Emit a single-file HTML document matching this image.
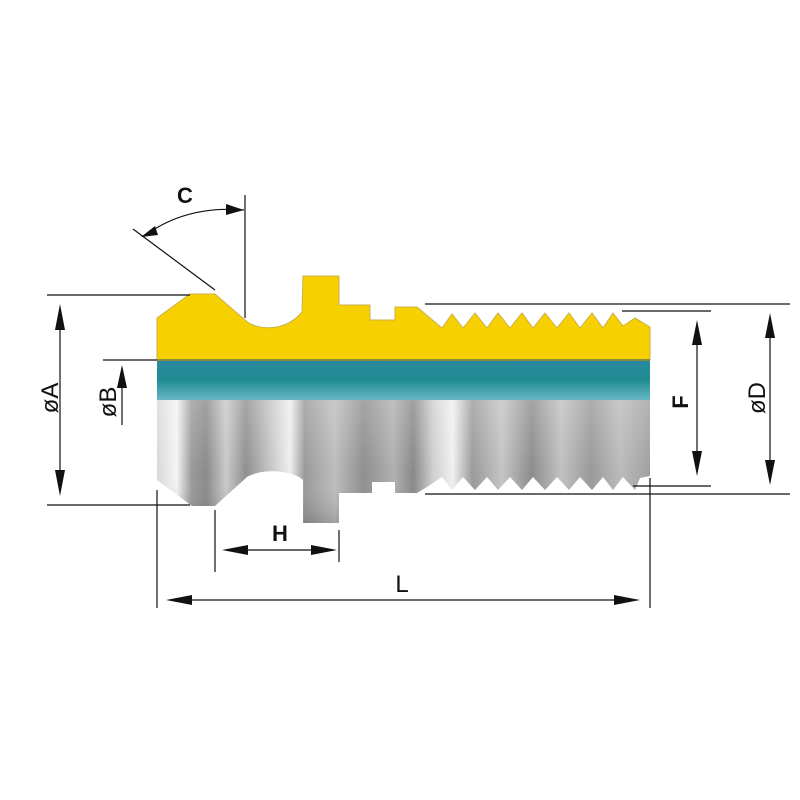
<!DOCTYPE html>
<html><head><meta charset="utf-8"><style>
html,body{margin:0;padding:0;background:#fff;}
svg{display:block;}
text{font-family:"Liberation Sans",sans-serif;fill:#111;}
</style></head><body>
<svg width="800" height="800" viewBox="0 0 800 800" xmlns="http://www.w3.org/2000/svg">
<defs>
<linearGradient id="gs" x1="0" y1="0" x2="1" y2="0">
<stop offset="0" stop-color="#d8d8d8"/><stop offset="0.04" stop-color="#f4f4f4"/><stop offset="0.07" stop-color="#9a9a9a"/>
<stop offset="0.1" stop-color="#8a8a8a"/><stop offset="0.14" stop-color="#c9c9c9"/><stop offset="0.18" stop-color="#8f8f8f"/>
<stop offset="0.24" stop-color="#d0d0d0"/><stop offset="0.27" stop-color="#eeeeee"/><stop offset="0.3" stop-color="#999"/>
<stop offset="0.36" stop-color="#bdbdbd"/><stop offset="0.42" stop-color="#8e8e8e"/><stop offset="0.48" stop-color="#b0b0b0"/>
<stop offset="0.52" stop-color="#888"/><stop offset="0.56" stop-color="#cfcfcf"/><stop offset="0.6" stop-color="#f0f0f0"/>
<stop offset="0.64" stop-color="#9a9a9a"/><stop offset="0.7" stop-color="#c4c4c4"/><stop offset="0.76" stop-color="#8c8c8c"/>
<stop offset="0.82" stop-color="#c0c0c0"/><stop offset="0.88" stop-color="#999"/><stop offset="0.94" stop-color="#bbb"/><stop offset="1" stop-color="#a0a0a0"/>
</linearGradient>
<linearGradient id="gv" x1="0" y1="0" x2="0" y2="1">
<stop offset="0" stop-color="#fff" stop-opacity="0.2"/><stop offset="0.6" stop-color="#fff" stop-opacity="0"/><stop offset="1" stop-color="#000" stop-opacity="0.15"/>
</linearGradient>
<linearGradient id="gt" x1="0" y1="0" x2="0" y2="1">
<stop offset="0" stop-color="#2a8aa0"/><stop offset="0.5" stop-color="#1f8c92"/><stop offset="1" stop-color="#6ab8c8"/>
</linearGradient>
</defs>
<!-- gray lower half -->
<path d="M157,400 L650,400 L650,476 L640,478 L635,490 L623,477 L613,490 L603,477 L592,490 L580,477 L569,490 L557,477 L545,490 L533,477 L522,490 L510,477 L498,490 L487,477 L475,490 L463,477 L452,490 L442,477 L427,487 L417,493 L395,493 L395,482 L372,482 L372,493 L339,493 L339,523 L303,523 L303,480 C292,470 262,468 247,477 L215,506 L192,506 L157,480 Z" fill="url(#gs)"/>
<path d="M157,400 L650,400 L650,476 L640,478 L635,490 L623,477 L613,490 L603,477 L592,490 L580,477 L569,490 L557,477 L545,490 L533,477 L522,490 L510,477 L498,490 L487,477 L475,490 L463,477 L452,490 L442,477 L427,487 L417,493 L395,493 L395,482 L372,482 L372,493 L339,493 L339,523 L303,523 L303,480 C292,470 262,468 247,477 L215,506 L192,506 L157,480 Z" fill="url(#gv)"/>
<!-- teal -->
<rect x="157" y="360" width="493" height="40" fill="url(#gt)"/>
<!-- yellow -->
<path d="M157,360 L157,318 L190,294 L215,294 L245,320 C255,330 285,333 302,312 L303,276 L339,276 L339,305 L370,305 L370,320 L395,320 L395,307 L417,307 L442,328 L452,314 L463,328 L475,313 L487,328 L498,313 L510,328 L522,313 L533,328 L545,313 L557,328 L569,313 L580,328 L592,313 L603,328 L613,313 L623,326 L635,318 L650,327 L650,360 Z" fill="#f6d000" stroke="#c9b04a" stroke-width="1"/>
<line x1="157" y1="360" x2="650" y2="360" stroke="#8a8a3a" stroke-width="2"/>
<g stroke="#111" stroke-width="1.2" fill="none">
<!-- C -->
<line x1="245" y1="195" x2="245" y2="318"/>
<line x1="133" y1="229" x2="215" y2="290"/>
<path d="M143,237 Q185,205 244,210"/>
<!-- A -->
<line x1="47" y1="295" x2="190" y2="295"/>
<line x1="47" y1="505" x2="190" y2="505"/>
<line x1="60" y1="310" x2="60" y2="490"/>
<!-- B -->
<line x1="103" y1="360" x2="157" y2="360"/>
<line x1="122" y1="375" x2="122" y2="425"/>
<!-- right -->
<line x1="425" y1="304" x2="790" y2="304"/>
<line x1="425" y1="494" x2="790" y2="494"/>
<line x1="622" y1="311" x2="711" y2="311"/>
<line x1="633" y1="486" x2="711" y2="486"/>
<line x1="697" y1="335" x2="697" y2="462"/>
<line x1="770" y1="330" x2="770" y2="470"/>
<!-- bottom -->
<line x1="157" y1="490" x2="157" y2="608"/>
<line x1="650" y1="478" x2="650" y2="608"/>
<line x1="215" y1="510" x2="215" y2="572"/>
<line x1="339" y1="530" x2="339" y2="562"/>
<line x1="235" y1="550" x2="325" y2="550"/>
<line x1="180" y1="600" x2="625" y2="600"/>
</g>
<g fill="#111">
<polygon points="244,210 226,204 226,215"/>
<polygon points="141,237 155,226 158,235"/>
<polygon points="60,304 55,330 65,330"/>
<polygon points="60,496 55,470 65,470"/>
<polygon points="122,365 117,388 127,388"/>
<polygon points="697,320 692,345 702,345"/>
<polygon points="697,476 692,451 702,451"/>
<polygon points="770,313 765,338 775,338"/>
<polygon points="770,485 765,460 775,460"/>
<polygon points="222,550 248,545 248,555"/>
<polygon points="337,550 311,545 311,555"/>
<polygon points="166,600 192,595 192,605"/>
<polygon points="640,600 614,595 614,605"/>
</g>
<text x="185" y="203" font-size="22" font-weight="bold" text-anchor="middle">C</text>
<text x="280" y="541" font-size="22" font-weight="bold" text-anchor="middle">H</text>
<text x="402" y="592" font-size="24" text-anchor="middle">L</text>
<text transform="translate(58,398) rotate(-90)" font-size="24" text-anchor="middle">øA</text>
<text transform="translate(116,402) rotate(-90)" font-size="24" text-anchor="middle">øB</text>
<text transform="translate(688,402) rotate(-90)" font-size="22" font-weight="bold" text-anchor="middle">F</text>
<text transform="translate(765,398) rotate(-90)" font-size="24" text-anchor="middle">øD</text>
</svg>
</body></html>
